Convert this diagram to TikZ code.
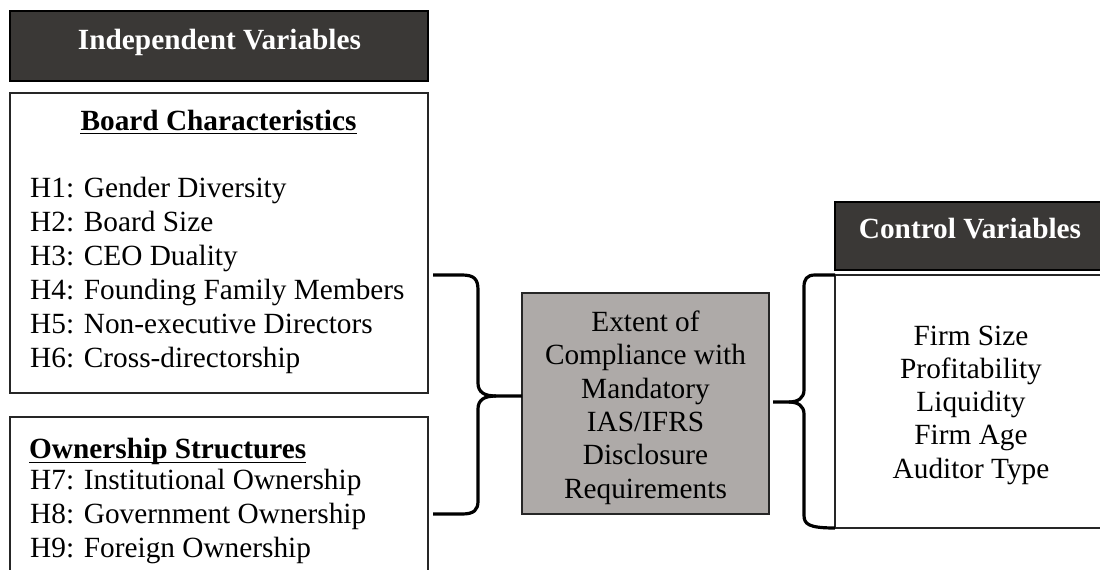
\documentclass[tikz,border=0pt]{standalone}
\usepackage{fontspec}
\setmainfont{Liberation Serif}
\usetikzlibrary{calc}
\definecolor{headfill}{RGB}{58,56,54}
\definecolor{midfill}{RGB}{174,170,168}
\tikzset{
  basebox/.style={line width=1.2pt, anchor=north west, inner sep=0pt, outer sep=0pt},
  hdbox/.style={basebox, draw=black, fill=headfill},
  plainbox/.style={basebox, draw=black!85, fill=white},
  midbox/.style={basebox, draw=black!85, fill=midfill},
  bodytext/.style={font=\fontsize{29.3}{34}\selectfont, inner sep=0pt},
  hdtext/.style={bodytext, font=\bfseries\fontsize{29.3}{34}\selectfont, text=white, anchor=base},
  subhead/.style={bodytext, font=\bfseries\fontsize{29.3}{34}\selectfont},
  brace/.style={line width=3.2pt, line join=round, draw=black},
}
\begin{document}
\begin{tikzpicture}[x=1pt,y=-1pt]
\useasboundingbox (0,0) rectangle (1100,570);
\clip (0,0) rectangle (1100,570);

% left column
\node[hdbox, minimum width=418, minimum height=70] (ivbox) at (10,11) {};
\node[hdtext] (ivtitle) at (219.5,49) {Independent Variables};

\node[plainbox, minimum width=418, minimum height=300] (bcbox) at (10,93) {};
\node[subhead, anchor=base] (bchead) at (218.5,130) {Board Characteristics};
\draw[line width=1.3pt] ($(bchead.base west)+(0,3.5)$) -- ($(bchead.base east)+(0,3.5)$);
\foreach \t [count=\i] in {H1: Gender Diversity, H2: Board Size, H3: CEO Duality,
  H4: Founding Family Members, H5: Non-executive Directors, H6: Cross-directorship}
  \node[bodytext, anchor=base west] (bc\i) at (30,163+34*\i) {\t};

\node[plainbox, minimum width=418, minimum height=200] (osbox) at (10,417) {};
\node[subhead, anchor=base west] (oshead) at (29,458) {Ownership Structures};
\draw[line width=1.3pt] ($(oshead.base west)+(0,4.5)$) -- ($(oshead.base east)+(0,4.5)$);
\foreach \t [count=\i] in {H7: Institutional Ownership, H8: Government Ownership,
  H9: Foreign Ownership}
  \node[bodytext, anchor=base west] (os\i) at (30,455+34*\i) {\t};

% dependent variable
\node[midbox, minimum width=247, minimum height=221] (dvbox) at (522,293) {};
\foreach \t [count=\i from 0] in {Extent of, Compliance with, Mandatory, IAS/IFRS,
  Disclosure, Requirements}
  \node[bodytext, anchor=base] (dv\i) at (645.5,331.5+33.3*\i) {\t};

% control variables
\node[hdbox, minimum width=273, minimum height=68] (cvbox) at (835,202) {};
\node[hdtext] (cvtitle) at (970,238) {Control Variables};
\node[plainbox, minimum width=273, minimum height=253] (cibox) at (835,275) {};
\foreach \t [count=\i from 0] in {Firm Size, Profitability, Liquidity, Firm Age,
  Auditor Type}
  \node[bodytext, anchor=base] (ci\i) at (971,345+33.25*\i) {\t};

% brace ends
\coordinate (ltop) at (433,275);
\coordinate (lbot) at (433,514);
\coordinate (ltip) at ($(dvbox.north west)+(0,103)$);
\coordinate (rtip) at ($(dvbox.north east)+(4,109)$);

% brace gathering the independent variables
\draw[brace] (ltop) -- (462,275) .. controls (474,275) and (478,279) .. (478,290)
  -- (478,383) .. controls (478,392) and (484,396) .. (496,396) -- (ltip);
\draw[brace] (496,396) .. controls (484,396) and (478,400) .. (478,409)
  -- (478,501) .. controls (478,510) and (474,514) .. (462,514) -- (lbot);

% brace gathering the control variables
\draw[brace] (cibox.north west) -- (815,275) .. controls (807,275) and (804,279) .. (804,287)
  -- (804,390) .. controls (804,398) and (798,402) .. (789,402) -- (rtip);
\draw[brace] (789,402) .. controls (798,402) and (804,406) .. (804,414)
  -- (804,515) .. controls (804,524) and (808,528) .. (cibox.south west);
\end{tikzpicture}
\end{document}
